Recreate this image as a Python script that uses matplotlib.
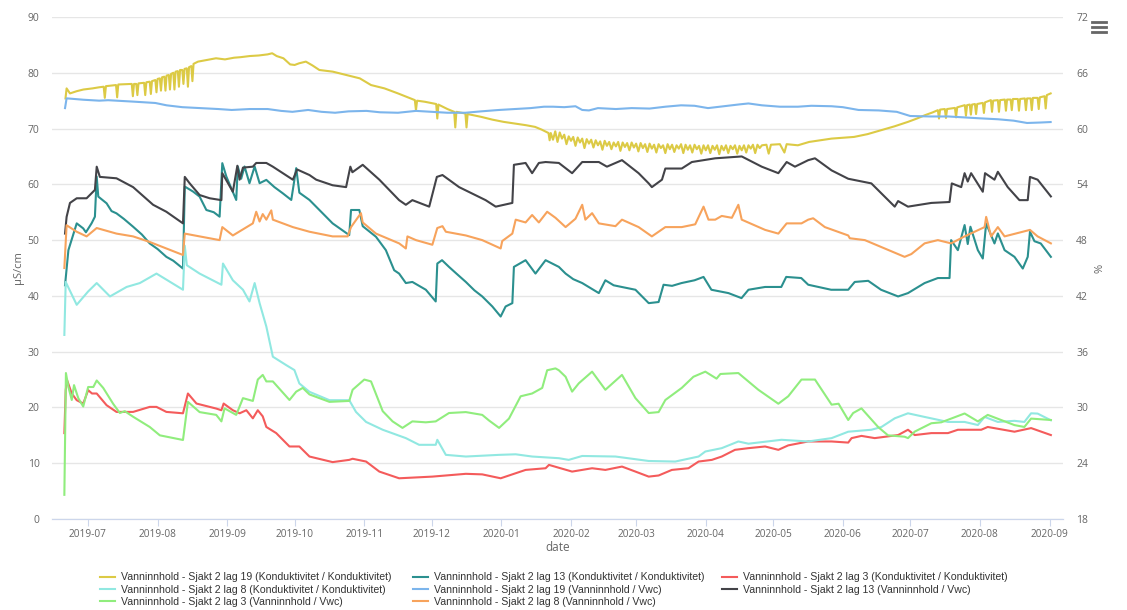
import numpy as np
import pandas as pd
import matplotlib
matplotlib.use('Agg')
import matplotlib.pyplot as plt
import matplotlib.dates as mdates
from matplotlib.lines import Line2D

START = pd.Timestamp('2019-07-01')   # day 0 of the lists below

# (days since START, value)
# Konduktivitet series -> left axis (µS/cm)
lag19_kond = [(-10, 75.4), (-9.5, 77.2), (-8, 76.3), (-5, 76.7), (-2, 77.0), (2, 77.2), (5, 77.4),
              (7.0, 77.5), (7.5, 75.5), (8.0, 77.6), (12.5, 77.8), (13.0, 75.6), (13.5, 77.9),
              (19.5, 78.0), (20.0, 75.8), (20.5, 78.0), (21.5, 78.0), (22.0, 76.0), (22.5, 78.1),
              (25.0, 78.2), (25.5, 76.0), (26.0, 78.3), (27.5, 78.4), (28.0, 76.2), (28.5, 78.5),
              (30.0, 78.7), (30.5, 76.5), (31.0, 78.9), (32.0, 79.0), (32.5, 76.8), (33.0, 79.2),
              (34.0, 79.3), (34.5, 76.8), (35.0, 79.5), (36.0, 79.6), (36.5, 77.0), (37.0, 79.8),
              (38.0, 80.0), (38.5, 77.0), (39.0, 80.2), (40.0, 80.3), (40.5, 77.5), (41.0, 80.5),
              (42.0, 80.5), (42.5, 78.0), (43.0, 80.7), (44.0, 80.8), (44.5, 77.5), (45.0, 81.0),
              (46.0, 81.2), (46.5, 78.5), (47.0, 81.6), (49, 82.0), (53, 82.3), (57, 82.6), (61, 82.4),
              (65, 82.7), (68, 82.8), (72, 83.0), (76, 83.1), (80, 83.3), (82, 83.5), (84, 83.0),
              (87, 82.6), (90, 81.5), (92, 81.4), (94, 81.7), (97, 82.0), (100, 81.3), (103, 80.5),
              (109, 80.2), (115, 79.6), (121, 79.0), (126, 77.8), (132, 77.2), (138, 76.3), (143, 75.5),
              (145.5, 75.1), (146, 73.3), (146.5, 75.0), (150, 74.8), (155, 74.4), (155.5, 71.8),
              (156, 74.3), (160, 73.5), (163, 73.0), (163.5, 70.2), (164, 73.0), (168, 72.7),
              (168.5, 70.2), (169, 72.6), (175, 72.1), (180, 71.6), (185, 71.2), (190, 70.9),
              (195, 70.6), (199, 70.3), (202, 69.8), (205, 69.2), (205.5, 67.9),
              (206, 69.2), (207, 68.0), (208, 69.5), (209, 67.6), (210, 69.3), (211, 68.2), (212, 68.9),
              (213, 67.2), (214, 68.6), (215, 67.8), (216, 68.5), (217, 66.9), (218, 68.4), (219, 67.5),
              (220, 68.2), (221, 66.5), (222, 68.1), (223, 67.3), (224, 68.0), (225, 66.6), (226, 67.9),
              (227, 67.0), (228, 67.7), (229, 66.2), (230, 67.8), (231, 66.9), (232, 67.6), (233, 66.3),
              (234, 67.5), (235, 66.8), (236, 67.6), (237, 66.0), (238, 67.5), (239, 66.7), (240, 67.4),
              (241, 66.1), (242, 67.5), (243, 66.6), (244, 67.3), (245, 65.9), (246, 67.4), (247, 66.5),
              (248, 67.2), (249, 65.8), (250, 67.3), (251, 66.4), (252, 67.1), (253, 65.7), (254, 67.2),
              (255, 66.5), (256, 67.0), (257, 65.6), (258, 67.2), (259, 66.3), (260, 67.1), (261, 65.8),
              (262, 67.0), (263, 66.4), (264, 67.2), (265, 65.6), (266, 67.1), (267, 66.2), (268, 67.0),
              (269, 65.7), (270, 67.1), (271, 66.3), (272, 66.9), (273, 65.5), (274, 67.0), (275, 66.1),
              (276, 67.0), (277, 65.6), (278, 66.9), (279, 66.2), (280, 67.0), (281, 65.4), (282, 66.9),
              (283, 66.1), (284, 67.0), (285, 65.6), (286, 66.9), (287, 66.3), (288, 67.0), (289, 65.5),
              (290, 66.9), (291, 66.1), (292, 67.0), (293, 65.7), (294, 67.0), (295, 66.4), (296, 67.1),
              (297, 65.6), (298, 67.1), (299, 66.5), (300, 67.0), (302, 67.1), (303, 65.5),
              (304, 67.1), (308, 67.2), (310, 65.7), (311, 67.2), (316, 67.0), (321, 67.6), (331, 68.2),
              (341, 68.5), (347, 69.0), (353, 69.7), (359, 70.4), (365, 71.2), (369, 71.8), (372.6, 72.4),
              (376, 72.9), (378.3, 73.3), (378.8, 71.8), (379.3, 73.4), (381.4, 73.5), (381.9, 71.9),
              (382.4, 73.5), (385.9, 73.7), (386.4, 72.0), (386.9, 73.8), (390.3, 74.2), (390.8, 72.3),
              (391.3, 74.2), (392.5, 74.3), (393.0, 72.5), (393.5, 74.3), (394.8, 74.4), (395.3, 72.6),
              (395.8, 74.4), (398.3, 74.6), (398.8, 72.8), (399.3, 74.7), (401.9, 75.1), (402.4, 73.0),
              (402.9, 75.0), (405.0, 75.1), (405.5, 73.0), (406.0, 75.1), (408.1, 75.2), (408.6, 73.2),
              (409.1, 75.2), (410.7, 75.2), (411.2, 73.3), (411.7, 75.3), (413.9, 75.3), (414.4, 73.2),
              (414.9, 75.3), (417.0, 75.4), (417.5, 73.3), (418.0, 75.4), (419.6, 75.4), (420.1, 73.3),
              (420.6, 75.5), (422.7, 75.5), (423.2, 73.5), (423.7, 75.6), (425.8, 75.8), (426.3, 73.6),
              (426.8, 76.0), (428.5, 76.3)]

lag13_kond = [(-10.2, 41.9), (-8.7, 48.2), (-5, 53.0), (-2.1, 52.1), (-0.9, 51.4), (1.6, 53.0), (3.1, 54.2),
              (3.9, 61.4), (4.6, 57.8), (8.3, 56.6), (10.5, 55.2), (12.7, 54.8), (16, 53.8), (20.1, 52.4),
              (24, 51.0), (27.5, 49.4), (31, 48.4), (34.9, 47.0), (38, 46.3), (42.3, 44.9), (43.1, 59.6),
              (46.8, 58.7), (49.7, 57.8), (52.7, 55.4), (56, 55.0), (58.6, 54.2), (59.8, 63.8), (61.6, 61.4),
              (66.0, 57.2), (66.7, 63.2), (68.2, 61.0), (69.7, 63.2), (71.9, 60.2), (74.2, 63.2), (76.4, 60.2),
              (79.4, 60.8), (83, 59.5), (86.7, 58.4), (90.5, 57.2), (92.7, 62.9), (94.1, 58.5), (98.6, 57.2),
              (104, 55.0), (108.9, 53.0), (116.3, 50.9), (117.1, 55.4), (120.8, 55.4), (122.3, 52.5),
              (128.2, 50.6), (132.6, 48.2), (136.3, 44.6), (138.5, 44.0), (141.5, 42.3), (144.4, 42.5),
              (150.4, 41.1), (154.8, 39.0), (155.5, 45.8), (157.6, 46.4), (160.7, 45.2), (164, 44.0),
              (168.2, 42.5), (172, 41.0), (175.5, 39.9), (180, 38.1), (183.7, 36.3), (185.9, 38.1),
              (188.9, 38.7), (189.6, 45.2), (194.8, 46.4), (199.2, 44.0), (203.7, 46.4), (209.6, 45.2),
              (212.6, 44.0), (216, 43.0), (220, 42.3), (227.4, 40.5), (230.3, 42.8), (234, 41.9),
              (237.6, 41.6), (243.7, 41.1), (249.6, 38.7), (254, 38.9), (256.2, 42.0), (260, 41.8),
              (264.2, 42.3), (270, 42.8), (274, 43.4), (277.5, 41.1), (285.1, 40.5), (290.9, 39.6),
              (294, 41.1), (301.4, 41.6), (308.6, 41.6), (310.8, 43.4), (317.5, 43.2), (320.6, 42.0),
              (330.8, 41.1), (338.4, 41.1), (341.3, 42.5), (347.3, 42.7), (353, 41.1), (360.6, 39.9),
              (365, 40.5), (372.4, 42.3), (378.3, 43.2), (383.5, 43.2), (384.2, 50.0), (387.2, 48.2),
              (390.2, 52.7), (391.6, 49.3), (392.8, 52.4), (396.1, 48.2), (398.3, 46.7), (399.8, 53.0),
              (403.5, 49.4), (405, 51.2), (408, 48.2), (412.4, 47.0), (416.1, 44.9), (418.3, 47.0),
              (419.3, 51.5), (421.3, 49.8), (424.1, 49.4), (428.6, 47.0)]

lag3_kond = [(-10.5, 15.4), (-9.9, 23.1), (-9.3, 24.9), (-7.2, 22.5), (-5, 21.3), (-2.1, 20.7), (0.1, 23.1),
             (1.8, 22.5), (3.9, 22.5), (8.3, 20.4), (12.7, 19.2), (20.1, 19.2), (27.5, 20.1), (30.5, 20.1),
             (34.9, 19.2), (42.3, 18.95), (44.5, 22.5), (48.3, 20.7), (57.1, 19.8), (59.4, 19.5),
             (60.4, 20.7), (64.5, 19.5), (67.5, 18.95), (70.5, 19.5), (73.4, 18.05), (75.6, 19.5),
             (77.8, 18.4), (79.4, 16.5), (83.8, 15.4), (89.7, 13.0), (94.1, 13.0), (98.6, 11.2),
             (108.9, 10.2), (116.3, 10.6), (117.8, 10.8), (123.8, 10.3), (129.7, 8.5), (138.5, 7.3),
             (153.3, 7.6), (168.2, 8.1), (175.5, 8.0), (183.7, 7.3), (194.8, 8.8), (203.7, 9.1),
             (205.2, 9.7), (215.5, 8.5), (224.4, 9.1), (230.3, 8.8), (237.7, 9.4), (243.7, 8.5),
             (249.6, 7.6), (254, 7.8), (259.9, 8.8), (267.3, 9.1), (271.8, 10.3), (277.7, 10.6),
             (282.1, 11.2), (288, 12.4), (294, 12.7), (301.4, 13.0), (307.3, 12.4), (311.7, 13.2),
             (320.6, 13.9), (331, 13.9), (338.4, 13.7), (339.9, 14.5), (344.3, 14.9), (350.2, 14.5),
             (360.6, 15.05), (365, 16.0), (368, 15.05), (375.4, 15.4), (382.8, 15.4), (387.2, 16.0),
             (397.6, 16.0), (400.5, 16.5), (412.4, 15.65), (419.8, 16.3), (428.6, 15.05)]

lag8_kond = [(-10.5, 33.0), (-9.9, 42.5), (-5, 38.4), (0.1, 40.8), (3.9, 42.3), (9.8, 39.9), (17.2, 41.6),
             (23.1, 42.3), (30.5, 44.0), (42.3, 41.1), (43.1, 49.0), (44, 45.5), (49.7, 44.0), (59.4, 42.0),
             (60.1, 45.8), (64.5, 42.8), (69, 41.1), (71.9, 39.0), (74.2, 42.3), (76.4, 38.7), (79.4, 34.5),
             (82.3, 29.1), (88.2, 27.6), (91.9, 26.7), (94.1, 24.3), (98.6, 22.8), (107.5, 21.3),
             (116.3, 21.3), (119.3, 19.2), (123.8, 17.4), (131.2, 16.0), (141.5, 14.5), (147.4, 13.3),
             (154.8, 13.3), (155.5, 14.2), (159.3, 11.5), (168.2, 11.2), (183, 11.5), (190.4, 11.6),
             (197.7, 11.2), (209.6, 10.9), (214, 10.6), (220, 11.3), (234.8, 11.2), (249.6, 10.4),
             (261.4, 10.3), (271.8, 11.2), (274.8, 12.1), (282.1, 12.7), (289.5, 13.9), (294, 13.5),
             (308.7, 14.2), (320.6, 13.9), (331, 14.5), (338.4, 15.65), (348.7, 16.0), (353.2, 16.5),
             (359.1, 18.05), (365, 18.95), (372.4, 18.3), (382.8, 17.4), (390.2, 17.4), (396.1, 16.85),
             (399.1, 18.3), (405, 17.4), (412.4, 17.6), (416.8, 17.4), (419.8, 18.95), (422.7, 18.9),
             (428.6, 17.7)]

# Vanninnhold / Vwc series -> right axis (%)
lag19_vwc = [(-10.2, 62.2), (-9.5, 63.25), (-2, 63.1), (5, 63.0), (9, 63.05), (20, 62.9), (30, 62.75),
             (35, 62.5), (42, 62.3), (50, 62.2), (58, 62.1), (64, 62.0), (72, 62.1), (80, 62.1), (86, 61.9),
             (91, 61.8), (98, 62.0), (104, 61.8), (110, 61.7), (116, 61.85), (124, 61.9), (130, 61.75),
             (138, 61.7), (146, 61.9), (153, 61.8), (160, 61.7), (168, 61.7), (175, 61.85), (183, 62.0),
             (190, 62.1), (197, 62.2), (203, 62.35), (207, 62.35), (212, 62.3), (217, 62.4), (220, 62.0),
             (223, 61.95), (227, 62.2), (235, 62.1), (242, 62.2), (250, 62.15), (257, 62.35), (264, 62.5),
             (270, 62.45), (276, 62.2), (283, 62.4), (290, 62.6), (294, 62.7), (300, 62.5), (308, 62.35),
             (316, 62.35), (322, 62.45), (331, 62.4), (336, 62.3), (343, 62.0), (352, 61.95), (360, 61.8),
             (366, 61.35), (375, 61.3), (383, 61.3), (390, 61.2), (397, 61.1), (405, 61.0), (412, 60.85),
             (418, 60.6), (424, 60.65), (428.5, 60.7)]

lag13_vwc = [(-10.2, 48.7), (-9.5, 50.5), (-8, 52.0), (-5, 52.5), (-0.6, 52.5), (3.1, 53.4), (3.9, 55.9),
             (5.3, 54.8), (12.7, 54.65), (20.1, 53.7), (29, 51.8), (34.9, 51.05), (42.3, 49.8), (43.1, 54.8),
             (45.3, 54.1), (49.7, 52.85), (54.2, 52.5), (59.4, 52.3), (59.8, 55.2), (64.5, 53.2), (66.5, 56.0),
             (67.5, 54.5), (69, 55.8), (73.4, 55.9), (74.9, 56.3), (79.4, 56.3), (82.3, 55.9), (91.2, 54.5),
             (93.1, 55.6), (98.6, 55.0), (101.6, 54.5), (108.9, 53.9), (114.9, 53.7), (116.8, 55.9),
             (117.7, 55.3), (122.3, 56.1), (129.7, 54.5), (138.5, 52.3), (141.5, 51.8), (144.4, 52.3),
             (151.9, 51.6), (155.3, 54.8), (157.8, 55.0), (165.2, 53.7), (171.1, 53.0), (177, 52.3),
             (181.5, 51.6), (188.9, 52.0), (189.6, 56.1), (194.8, 56.3), (197.7, 55.2), (200.7, 56.3),
             (203.7, 56.4), (209.6, 56.3), (215.5, 55.2), (220, 56.4), (227.4, 56.4), (231, 55.9),
             (237.7, 56.6), (245.1, 55.2), (249.6, 54.1), (251, 53.7), (255.5, 54.5), (257, 55.7),
             (264.3, 55.7), (268.8, 56.4), (279.2, 56.8), (291, 57.0), (299.9, 55.9), (307.3, 55.2),
             (311, 56.4), (314.7, 55.9), (320.6, 56.6), (323.6, 56.8), (331, 55.5), (338.4, 54.6),
             (348.7, 54.1), (359.1, 51.6), (360.6, 52.2), (365, 51.6), (375.4, 52.0), (383.5, 52.1),
             (384.5, 54.1), (388.7, 53.7), (390.2, 55.2), (391.6, 54.3), (393.1, 55.2), (398.3, 53.2),
             (399.3, 55.2), (403.5, 54.5), (405, 55.35), (409.4, 53.7), (414.6, 52.3), (418.3, 52.3),
             (419.3, 54.8), (422.7, 54.5), (428.6, 52.7)]

lag3_vwc = [(-10.5, 20.6), (-9.8, 33.7), (-8.7, 32.2), (-7.2, 30.8), (-6.2, 32.4), (-4.3, 31.0), (-2.1, 30.1),
            (0.1, 32.2), (2.4, 32.2), (3.9, 32.9), (6.8, 32.1), (11.2, 30.4), (14.2, 29.4), (16.4, 29.6),
            (20.1, 29.0), (27.5, 27.9), (32, 27.0), (42.3, 26.5), (44.5, 30.6), (49.7, 29.5), (57.1, 29.2),
            (59.4, 28.5), (60.8, 29.9), (66, 29.2), (69, 31.0), (73.4, 30.7), (75.6, 33.0), (77.8, 33.5),
            (79.4, 32.8), (82.3, 32.8), (89.7, 30.8), (92.7, 31.7), (95.6, 32.1), (98.6, 31.4),
            (107.5, 30.6), (116.3, 30.7), (117.8, 31.9), (123, 33.0), (126, 32.8), (131.2, 29.6),
            (135.6, 28.5), (140, 27.8), (144.4, 28.5), (150.4, 28.4), (154.8, 28.5), (160.7, 29.4),
            (168.2, 29.5), (175.5, 29.2), (178.5, 28.6), (183, 27.8), (187.4, 28.8), (192.6, 31.2),
            (197.7, 31.5), (202.2, 32.1), (204.4, 34.0), (208.1, 34.2), (209.6, 34.0), (212.6, 33.3),
            (215.5, 31.7), (218.5, 32.6), (224.4, 33.85), (230.3, 31.9), (237.7, 33.5), (243.7, 31.0),
            (249.6, 29.4), (254, 29.5), (257, 30.8), (264.3, 32.1), (269.5, 33.3), (274.8, 33.85),
            (279.8, 33.1), (281.5, 33.6), (289.5, 33.7), (298.4, 31.9), (307.3, 30.4), (311.7, 31.2),
            (317.6, 33.0), (323.6, 33.0), (331, 30.3), (334.1, 30.4), (338.4, 28.65), (340.6, 29.4),
            (344.3, 29.9), (351.7, 27.9), (356.1, 27.0), (363.5, 26.85), (365, 26.7), (368, 27.4),
            (375.4, 28.3), (379.8, 28.4), (384.2, 28.8), (390.2, 29.35), (396.1, 28.5), (400.5, 29.2),
            (412.4, 28.1), (416.8, 27.9), (419.8, 28.8), (428.6, 28.65)]

lag8_vwc = [(-10.5, 45.0), (-9.5, 49.6), (-5, 48.9), (-0.6, 48.4), (3.9, 49.3), (12.7, 48.7), (20.1, 48.4),
            (27.5, 47.8), (34.9, 47.1), (42.3, 46.4), (43.1, 48.7), (49.7, 48.4), (58.6, 48.0), (59.8, 49.4),
            (64.5, 48.5), (73.4, 49.8), (74.9, 51.05), (76.4, 50.0), (77.8, 50.8), (79.4, 50.2), (81.6, 51.2),
            (82.3, 50.2), (91.2, 49.4), (98.6, 48.9), (108.9, 48.4), (115.6, 48.4), (117.1, 49.4),
            (121.5, 50.9), (122.3, 49.9), (128.2, 48.7), (138.5, 47.65), (141.5, 47.1), (142.2, 48.4),
            (146, 48.0), (153.3, 47.5), (155.5, 49.3), (157.8, 49.5), (159.3, 48.9), (168.2, 48.5),
            (175.5, 48.0), (183.7, 47.1), (184.4, 47.9), (188.9, 48.7), (190.4, 50.2), (194.8, 49.9),
            (197.7, 50.7), (200.7, 49.9), (204.4, 51.05), (208.1, 50.4), (212.6, 49.4), (217, 50.3),
            (220, 51.8), (221.4, 50.2), (224.4, 50.9), (227.4, 49.8), (234.8, 49.5), (237.7, 50.2),
            (245.1, 49.4), (251, 48.4), (257, 49.4), (264.3, 49.4), (270.3, 49.7), (274, 51.6),
            (276.2, 50.2), (279.2, 50.2), (282.1, 50.6), (286.6, 50.4), (289.5, 51.8), (291, 50.2),
            (301.4, 49.1), (307.3, 48.7), (311, 49.8), (317.6, 49.8), (320.6, 50.2), (322.8, 50.35),
            (328, 49.4), (338.4, 48.5), (339.1, 48.2), (345.8, 48.0), (363.5, 46.2), (366.5, 46.5),
            (372.4, 47.65), (378.3, 48.0), (384.2, 47.65), (390.2, 48.4), (399.1, 49.4), (399.8, 50.5),
            (402, 48.4), (405, 49.4), (408, 48.4), (419.3, 49.1), (422.7, 48.4), (428.6, 47.65)]

labels = ['Vanninnhold - Sjakt 2 lag 19 (Konduktivitet / Konduktivitet)',
          'Vanninnhold - Sjakt 2 lag 13 (Konduktivitet / Konduktivitet)',
          'Vanninnhold - Sjakt 2 lag 3 (Konduktivitet / Konduktivitet)',
          'Vanninnhold - Sjakt 2 lag 8 (Konduktivitet / Konduktivitet)',
          'Vanninnhold - Sjakt 2 lag 19 (Vanninnhold / Vwc)',
          'Vanninnhold - Sjakt 2 lag 13 (Vanninnhold / Vwc)',
          'Vanninnhold - Sjakt 2 lag 3 (Vanninnhold / Vwc)',
          'Vanninnhold - Sjakt 2 lag 8 (Vanninnhold / Vwc)']
colours = ['#dcca45', '#2b908f', '#f45b5b', '#91e8e1', '#7cb5ec', '#434348', '#90ed7d', '#f7a35c']


def to_xy(pairs):
    days, vals = zip(*pairs)
    return START + pd.to_timedelta(np.array(days), unit='D'), np.array(vals)


plt.rcParams['font.family'] = ['Open Sans', 'DejaVu Sans']

W, H = 1127, 610
fig = plt.figure(figsize=(W / 100, H / 100), dpi=100)
ax = fig.add_axes([52 / W, 1 - 519 / H, (1063 - 52) / W, (519 - 17) / H])
ax2 = ax.twinx()

handles = []
for i, series in enumerate([lag19_kond, lag13_kond, lag3_kond, lag8_kond]):
    x, y = to_xy(series)
    h, = ax.plot(x, y, color=colours[i], lw=1.5, label=labels[i])
    handles.append(h)
for i, series in enumerate([lag19_vwc, lag13_vwc, lag3_vwc, lag8_vwc]):
    x, y = to_xy(series)
    h, = ax2.plot(x, y, color=colours[i + 4], lw=1.5, label=labels[i + 4])
    handles.append(h)

ax.set_ylim(0, 90)
ax.set_yticks(range(0, 91, 10))
ax2.set_ylim(18, 72)
ax2.set_yticks(range(18, 73, 6))
ax.set_xlim(pd.Timestamp('2019-06-15'), pd.Timestamp('2020-09-07'))

ax.xaxis.set_major_locator(mdates.MonthLocator())
ax.xaxis.set_major_formatter(mdates.DateFormatter('%Y-%m'))

ax.grid(axis='y', color='#e6e6e6', lw=1)
ax.set_axisbelow(True)
for a in (ax, ax2):
    for s in ['top', 'left', 'right']:
        a.spines[s].set_visible(False)
    a.spines['bottom'].set_color('#ccd6eb')
ax.tick_params(axis='y', length=0, labelsize=7.5, labelcolor='#666666', pad=9)
ax2.tick_params(axis='y', length=0, labelsize=7.5, labelcolor='#666666', pad=9.5)
ax.tick_params(axis='x', length=5, color='#ccd6eb', labelsize=7.3, labelcolor='#666666', pad=2)

ax.set_ylabel('µS/cm', fontsize=8, color='#666666', labelpad=2.5)
ax2.set_ylabel('%', fontsize=8, color='#666666', labelpad=4.5)
ax.set_xlabel('date', fontsize=8.5, color='#666666', labelpad=1)

# legend: one block per column, positioned like the original
columns = [[0, 3, 6], [1, 4, 7], [2, 5]]
col_x = [100, 413, 722]
for cx, col in zip(col_x, columns):
    fig.legend([handles[k] for k in col], [labels[k] for k in col],
               loc='upper left', bbox_to_anchor=(cx / W, 1 - 572.5 / H), frameon=False,
               prop={'family': ['Liberation Sans', 'DejaVu Sans'], 'size': 7.6},
               handlelength=1.45, handletextpad=0.5, labelspacing=0.2,
               borderpad=0, borderaxespad=0, labelcolor='#333333')

# menu icon
for yy in (22, 27, 32):
    fig.add_artist(Line2D([1092 / W, 1106 / W], [1 - yy / H, 1 - yy / H],
                          color='#666666', lw=2))

fig.savefig('out.png', dpi=100)
